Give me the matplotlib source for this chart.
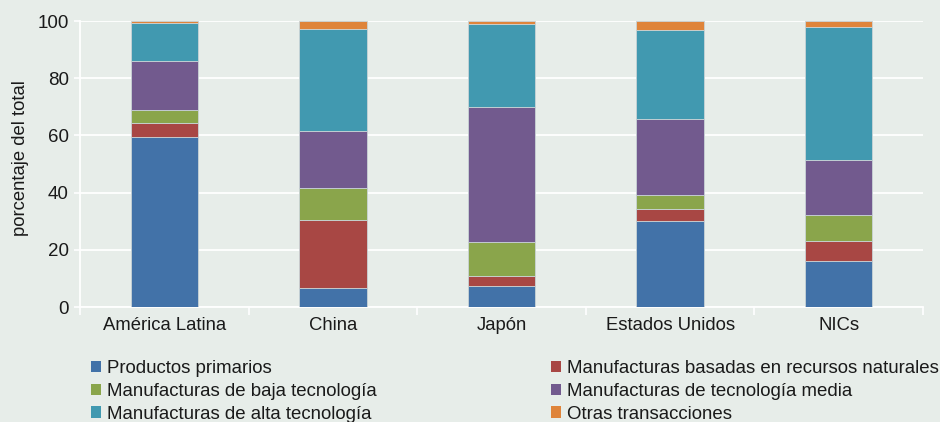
import matplotlib
matplotlib.use("Agg")
import matplotlib.pyplot as plt
from matplotlib.patches import Patch
import numpy as np

plt.rcParams['font.family'] = ['Liberation Sans', 'DejaVu Sans']

categories = ["América Latina", "China", "Japón", "Estados Unidos", "NICs"]
series_names = [
    "Productos primarios",
    "Manufacturas basadas en recursos naturales",
    "Manufacturas de baja tecnología",
    "Manufacturas de tecnología media",
    "Manufacturas de alta tecnología",
    "Otras transacciones",
]
productos_primarios = [59.5, 6.5, 7.4, 30.0, 16.2]
recursos_naturales = [4.9, 23.9, 3.3, 4.4, 6.9]
baja_tecnologia = [4.6, 11.2, 11.9, 4.7, 8.9]
tecnologia_media = [16.9, 19.8, 47.5, 26.8, 19.3]
alta_tecnologia = [13.5, 35.7, 28.7, 30.9, 46.5]
otras = [0.6, 2.9, 1.2, 3.2, 2.2]
yticks = [0, 20, 40, 60, 80, 100]

colors = ["#4272a8", "#a84744", "#8aa54b", "#725a8e", "#4199b0", "#df843a"]
bg = "#e7ede9"

series = [productos_primarios, recursos_naturales, baja_tecnologia,
          tecnologia_media, alta_tecnologia, otras]

fig = plt.figure(figsize=(9.4, 4.22), dpi=100, facecolor=bg)
ax = fig.add_axes([80 / 940, 1 - 307 / 422, (923 - 80) / 940, (307 - 21) / 422])
ax.set_facecolor(bg)

x = np.arange(len(categories))
bottom = np.zeros(len(categories))
for vals, col, name in zip(series, colors, series_names):
    ax.bar(x, vals, width=0.4, bottom=bottom, color=col, edgecolor="#c9d3d6",
           linewidth=0.6, label=name, zorder=3)
    bottom += np.array(vals)

ax.set_xlim(-0.5, len(categories) - 0.5)
ax.set_ylim(0, 100)
ax.set_yticks(yticks)
ax.set_xticks(x)
ax.set_xticklabels(categories, fontsize=13.3)
ax.set_xticks(np.arange(len(categories) + 1) - 0.5, minor=True)
ax.tick_params(axis='x', which='major', length=0, pad=7, colors='#1a1a1a')
ax.tick_params(axis='x', which='minor', length=6, width=1.2, color='white')
ax.tick_params(axis='y', length=4, width=1.2, color='white', labelsize=13.5,
               labelcolor='#1a1a1a', pad=4)
ax.yaxis.grid(True, color='white', linewidth=1.3, zorder=0)
ax.set_axisbelow(True)
for side in ['top', 'right']:
    ax.spines[side].set_visible(False)
for side in ['left', 'bottom']:
    ax.spines[side].set_color('white')
    ax.spines[side].set_linewidth(1.3)
ax.set_ylabel("porcentaje del total", fontsize=13.3, color='#1a1a1a')
ax.yaxis.set_label_coords(-0.061, 0.52)

handles = [Patch(facecolor=c, edgecolor='none') for c in colors]
leg_kw = dict(frameon=False, fontsize=13.4, handlelength=0.55, handleheight=0.55,
              handletextpad=0.3, labelspacing=0.31, borderaxespad=0,
              borderpad=0)
leg1 = fig.legend([handles[0], handles[2], handles[4]],
                  [series_names[0], series_names[2], series_names[4]],
                  loc='upper left', bbox_to_anchor=(91 / 940, 1 - 360 / 422), **leg_kw)
leg2 = fig.legend([handles[1], handles[3], handles[5]],
                  [series_names[1], series_names[3], series_names[5]],
                  loc='upper left', bbox_to_anchor=(551 / 940, 1 - 360 / 422), **leg_kw)
for leg in (leg1, leg2):
    for t in leg.get_texts():
        t.set_color('#1a1a1a')

fig.savefig("out.png", dpi=100, facecolor=bg)
